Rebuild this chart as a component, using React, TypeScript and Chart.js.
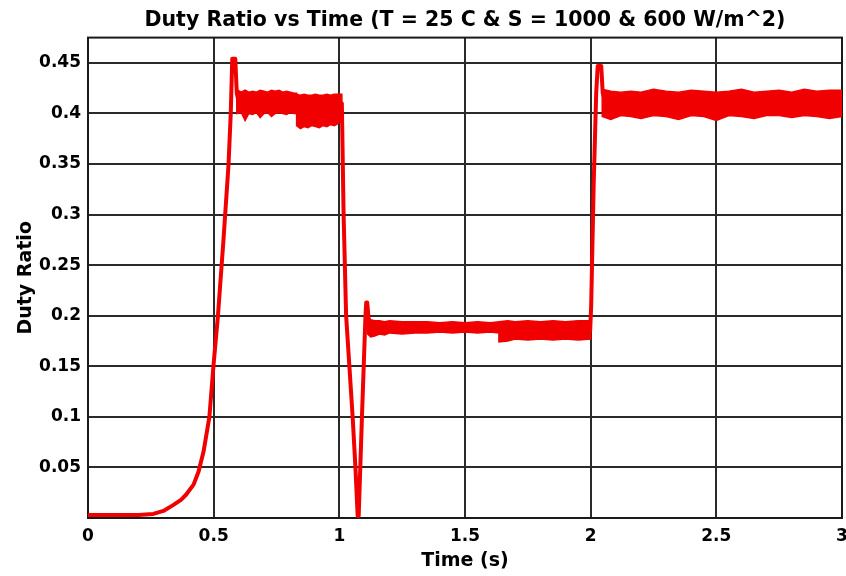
import React, { useEffect, useRef } from "react";
import { Chart, registerables } from "chart.js";

Chart.register(...registerables);

// Main duty-ratio trace (time in s, duty ratio)
const traceTime = [0, 0.1, 0.2, 0.26, 0.3, 0.34, 0.37, 0.39, 0.42, 0.44, 0.46, 0.483, 0.499, 0.517, 0.539, 0.559, 0.568, 0.574, 0.586, 0.592, 0.6, 0.83, 0.84, 1.0, 1.01, 1.017, 1.027, 1.04, 1.053, 1.064, 1.073, 1.077, 1.09, 1.097, 1.104, 1.107, 1.111, 1.118, 1.13, 1.635, 1.64, 1.998, 2.002, 2.012, 2.022, 2.028, 2.042, 2.048, 2.06, 3.0];
const traceValue = [0.003, 0.003, 0.003, 0.004, 0.007, 0.013, 0.018, 0.023, 0.033, 0.046, 0.066, 0.1, 0.15, 0.2, 0.275, 0.349, 0.4, 0.454, 0.454, 0.42, 0.411, 0.411, 0.403, 0.403, 0.41, 0.3, 0.2, 0.15, 0.1, 0.05, 0.002, 0.002, 0.1, 0.15, 0.2, 0.213, 0.213, 0.192, 0.189, 0.189, 0.185, 0.185, 0.21, 0.33, 0.42, 0.447, 0.447, 0.42, 0.41, 0.41];

// Ripple band envelopes (upper / lower)
const bandATime = [0.592, 0.61, 0.625, 0.64, 0.655, 0.67, 0.685, 0.7, 0.715, 0.73, 0.745, 0.76, 0.775, 0.79, 0.805, 0.82, 0.83];
const bandAUpper = [0.4235, 0.421, 0.423, 0.421, 0.422, 0.421, 0.423, 0.422, 0.421, 0.423, 0.422, 0.423, 0.421, 0.422, 0.421, 0.42, 0.42];
const bandALower = [0.4, 0.401, 0.393, 0.4, 0.399, 0.401, 0.396, 0.4, 0.401, 0.397, 0.4, 0.401, 0.4, 0.399, 0.401, 0.4, 0.4];

const bandBTime = [0.83, 0.845, 0.86, 0.875, 0.89, 0.905, 0.92, 0.935, 0.95, 0.965, 0.98, 0.995, 1.01];
const bandBUpper = [0.419, 0.418, 0.419, 0.418, 0.418, 0.419, 0.418, 0.418, 0.419, 0.418, 0.419, 0.419, 0.419];
const bandBLower = [0.388, 0.385, 0.387, 0.386, 0.388, 0.387, 0.386, 0.388, 0.387, 0.389, 0.388, 0.39, 0.392];

const bandCTime = [1.112, 1.125, 1.14, 1.16, 1.18, 1.2, 1.25, 1.3, 1.35, 1.4, 1.45, 1.5, 1.55, 1.6, 1.635];
const bandCUpper = [0.2, 0.196, 0.195, 0.195, 0.194, 0.195, 0.194, 0.194, 0.194, 0.193, 0.194, 0.193, 0.194, 0.193, 0.194];
const bandCLower = [0.182, 0.179, 0.18, 0.182, 0.181, 0.183, 0.182, 0.183, 0.183, 0.184, 0.183, 0.184, 0.183, 0.184, 0.183];

const bandDTime = [1.635, 1.67, 1.7, 1.75, 1.8, 1.85, 1.9, 1.95, 2.0];
const bandDUpper = [0.194, 0.195, 0.194, 0.195, 0.194, 0.195, 0.194, 0.195, 0.195];
const bandDLower = [0.174, 0.175, 0.177, 0.176, 0.177, 0.176, 0.177, 0.176, 0.177];

const bandETime = [2.046, 2.08, 2.12, 2.16, 2.2, 2.25, 2.3, 2.35, 2.4, 2.45, 2.5, 2.55, 2.6, 2.65, 2.7, 2.75, 2.8, 2.85, 2.9, 2.95, 3.0];
const bandEUpper = [0.424, 0.422, 0.421, 0.422, 0.421, 0.424, 0.422, 0.421, 0.423, 0.422, 0.421, 0.422, 0.424, 0.421, 0.422, 0.423, 0.421, 0.424, 0.422, 0.423, 0.423];
const bandELower = [0.397, 0.394, 0.398, 0.397, 0.395, 0.398, 0.397, 0.394, 0.398, 0.397, 0.393, 0.398, 0.397, 0.395, 0.398, 0.398, 0.396, 0.398, 0.397, 0.395, 0.397];

const yTickValues = [0.05, 0.1, 0.15, 0.2, 0.25, 0.3, 0.35, 0.4, 0.45];
const xTickValues = [0, 0.5, 1, 1.5, 2, 2.5, 3];

const RED = "rgb(240,0,0)";
const FONT = "DejaVu Sans";

const toPoints = (t: number[], v: number[]) => t.map((x, i) => ({ x, y: v[i] }));

// closed outline of a ripple band: upper envelope forward, lower envelope back
const bandOutline = (t: number[], up: number[], lo: number[]) => {
  const fwd = toPoints(t, up);
  const back = toPoints(t, lo).reverse();
  return [...fwd, ...back, fwd[0]];
};

const boxPlugin = {
  id: "boxPlugin",
  beforeDatasetsDraw(chart: any) {
    const { ctx, chartArea } = chart;
    ctx.save();
    ctx.strokeStyle = "#1a1a1a";
    ctx.lineWidth = 2;
    ctx.strokeRect(chartArea.left, chartArea.top, chartArea.right - chartArea.left, chartArea.bottom - chartArea.top);
    ctx.restore();
  },
};

export default function App() {
  const ref = useRef<HTMLCanvasElement>(null);
  useEffect(() => {
    if (!ref.current) return;
    const bands = [
      [bandATime, bandAUpper, bandALower],
      [bandBTime, bandBUpper, bandBLower],
      [bandCTime, bandCUpper, bandCLower],
      [bandDTime, bandDUpper, bandDLower],
      [bandETime, bandEUpper, bandELower],
    ];
    const datasets: any[] = bands.map(([t, up, lo], i) => ({
      label: "ripple" + i,
      data: bandOutline(t, up, lo),
      borderColor: RED,
      backgroundColor: RED,
      borderWidth: 1.5,
      pointRadius: 0,
      fill: "shape",
    }));
    datasets.push({
      label: "Duty Ratio",
      data: toPoints(traceTime, traceValue),
      borderColor: RED,
      borderWidth: 4,
      pointRadius: 0,
      fill: false,
      borderJoinStyle: "round",
      borderCapStyle: "round",
    });

    const chart = new Chart(ref.current, {
      type: "line",
      data: { datasets },
      plugins: [boxPlugin],
      options: {
        animation: false,
        responsive: false,
        layout: { padding: { left: 0, right: 4, top: 0, bottom: 0 } },
        plugins: {
          legend: { display: false },
          tooltip: { enabled: false },
          title: {
            display: true,
            text: "Duty Ratio vs Time (T = 25 C & S = 1000 & 600 W/m^2)",
            color: "#000",
            fullSize: false,
            font: { family: FONT, size: 20.5, weight: "bold" },
            padding: { top: 8, bottom: 5 },
          },
        },
        scales: {
          x: {
            type: "linear",
            min: 0,
            max: 3,
            border: { display: false },
            grid: { color: "#2a2a2a", lineWidth: 2, drawTicks: false },
            afterBuildTicks: (s: any) => {
              s.ticks = xTickValues.map((value) => ({ value }));
            },
            afterFit: (s: any) => {
              s.height = 58;
              s.paddingLeft = 0;
              s.paddingRight = 0;
            },
            ticks: {
              color: "#000",
              padding: 8,
              maxRotation: 0,
              autoSkip: false,
              font: { family: FONT, size: 17, weight: "bold" },
              callback: (v: any) => String(Number(Number(v).toFixed(3))),
            },
            title: {
              display: true,
              text: "Time (s)",
              color: "#000",
              font: { family: FONT, size: 19, weight: "bold" },
              padding: { top: 0, bottom: 4 },
            },
          },
          y: {
            type: "linear",
            min: 0,
            max: 0.475,
            border: { display: false },
            grid: { color: "#2a2a2a", lineWidth: 2, drawTicks: false },
            afterBuildTicks: (s: any) => {
              s.ticks = yTickValues.map((value) => ({ value }));
            },
            afterFit: (s: any) => {
              s.width = 88;
              s.paddingTop = 0;
              s.paddingBottom = 0;
            },
            ticks: {
              color: "#000",
              padding: 7,
              autoSkip: false,
              font: { family: FONT, size: 17, weight: "bold" },
              callback: (v: any) => String(Number(Number(v).toFixed(3))),
            },
            title: {
              display: true,
              text: "Duty Ratio",
              color: "#000",
              font: { family: FONT, size: 19, weight: "bold" },
              padding: { top: 15, bottom: 0 },
            },
          },
        },
      },
    } as any);
    return () => chart.destroy();
  }, []);

  return (
    <div style={{ position: "absolute", left: 0, top: 0, width: 846, height: 576, background: "#fff" }}>
      <canvas ref={ref} width={846} height={576} style={{ display: "block" }} />
    </div>
  );
}
